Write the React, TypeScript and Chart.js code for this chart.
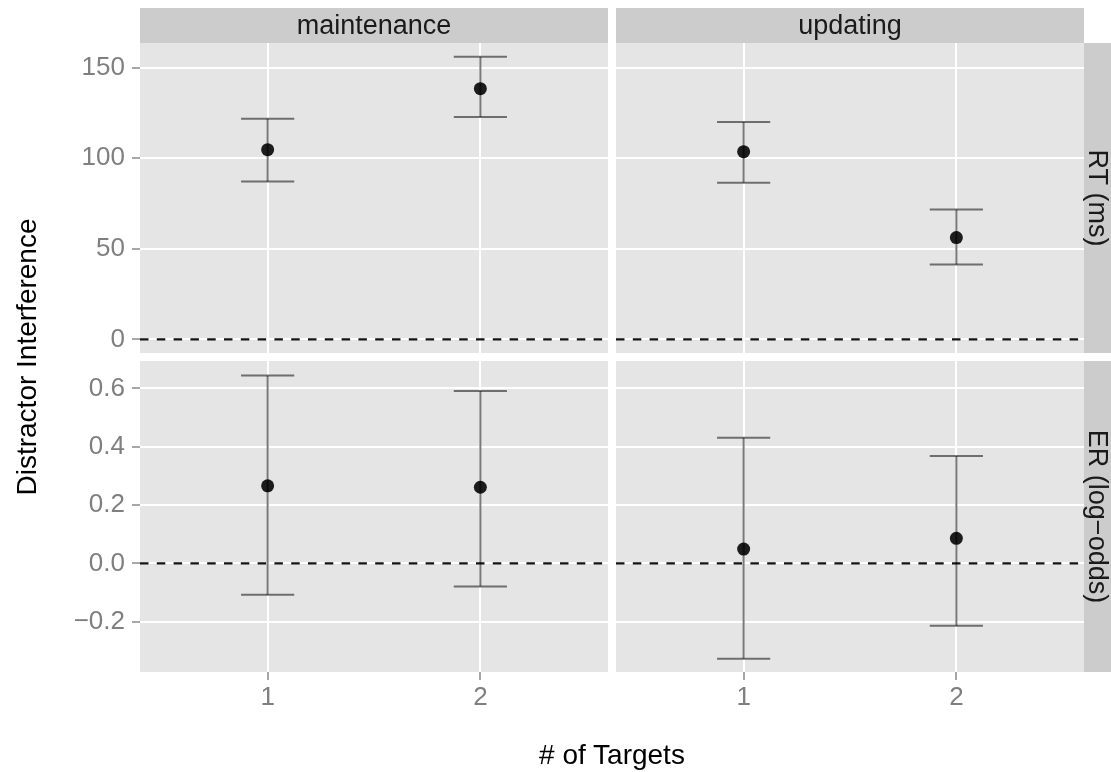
import { useEffect, useRef } from "react";
import { Chart, registerables } from "chart.js";

Chart.register(...registerables);

// ---- data ----
const targets = [1, 2];
const facetColumns = ["maintenance", "updating"];
const facetRows = ["RT (ms)", "ER (log\u2212odds)"];

const rtTicks = [0, 50, 100, 150];
const erTicks = [-0.2, 0, 0.2, 0.4, 0.6];

// RT (ms) distractor interference
const rtMaintenanceMean = [104.7, 138.4];
const rtMaintenanceLow = [87.1, 122.8];
const rtMaintenanceHigh = [121.8, 156.0];
const rtUpdatingMean = [103.6, 56.2];
const rtUpdatingLow = [86.5, 41.3];
const rtUpdatingHigh = [120.0, 71.7];

// ER (log-odds) distractor interference
const erMaintenanceMean = [0.266, 0.261];
const erMaintenanceLow = [-0.108, -0.079];
const erMaintenanceHigh = [0.644, 0.591];
const erUpdatingMean = [0.049, 0.086];
const erUpdatingLow = [-0.327, -0.214];
const erUpdatingHigh = [0.431, 0.368];

const FONT = '"Liberation Sans", Arial, Helvetica, sans-serif';
const X_MIN = 0.4;
const X_MAX = 2.6;
const CAP = 0.125;

type PanelSpec = {
  mean: number[];
  low: number[];
  high: number[];
  yMin: number;
  yMax: number;
  yTicks: number[];
  yFormat: (v: number) => string;
  leftAxis: boolean;
  bottomAxis: boolean;
  topStrip: string | null;
  rightStrip: string | null;
};

const panelBackground = {
  id: "panelBackground",
  beforeDraw(chart: any) {
    const { ctx, chartArea } = chart;
    ctx.save();
    ctx.fillStyle = "#e5e5e5";
    ctx.fillRect(chartArea.left, chartArea.top, chartArea.right - chartArea.left, chartArea.bottom - chartArea.top);
    ctx.restore();
  },
};

const facetStrips = {
  id: "facetStrips",
  afterDraw(chart: any) {
    const opts = chart.options.plugins.facetStrips || {};
    const { ctx, chartArea } = chart;
    const { left, right, top, bottom } = chartArea;
    ctx.save();
    ctx.font = `27px ${FONT}`;
    ctx.textAlign = "center";
    ctx.textBaseline = "middle";
    if (opts.top) {
      ctx.fillStyle = "#cccccc";
      ctx.fillRect(left, 8, right - left, top - 8);
      ctx.fillStyle = "#1a1a1a";
      ctx.fillText(opts.top, (left + right) / 2, (8 + top) / 2 + 1);
    }
    if (opts.right) {
      const w = chart.width - right;
      ctx.fillStyle = "#cccccc";
      ctx.fillRect(right, top, w, bottom - top);
      ctx.fillStyle = "#1a1a1a";
      ctx.translate(right + w / 2, (top + bottom) / 2);
      ctx.rotate(Math.PI / 2);
      ctx.fillText(opts.right, 0, 1);
    }
    ctx.restore();
  },
};

function buildDatasets(p: PanelSpec) {
  const barColor = "rgba(0,0,0,0.52)";
  const lineDs = (pts: { x: number; y: number }[], color: string, width: number, dash: number[] = []) => ({
    type: "line",
    data: pts,
    borderColor: color,
    borderWidth: width,
    borderDash: dash,
    pointRadius: 0,
    showLine: true,
    fill: false,
    tension: 0,
  });
  const ds: any[] = [];
  ds.push(lineDs([{ x: X_MIN, y: 0 }, { x: X_MAX, y: 0 }], "rgba(0,0,0,0.92)", 2.2, [8.5, 8.3]));
  targets.forEach((t, i) => {
    ds.push(lineDs([{ x: t, y: p.low[i] }, { x: t, y: p.high[i] }], barColor, 2));
    ds.push(lineDs([{ x: t - CAP, y: p.high[i] }, { x: t + CAP, y: p.high[i] }], barColor, 2));
    ds.push(lineDs([{ x: t - CAP, y: p.low[i] }, { x: t + CAP, y: p.low[i] }], barColor, 2));
  });
  ds.push({
    type: "line",
    data: targets.map((t, i) => ({ x: t, y: p.mean[i] })),
    showLine: false,
    pointRadius: 6.5,
    pointBackgroundColor: "#1c1c1c",
    pointBorderWidth: 0,
    borderColor: "#1c1c1c",
  });
  return ds;
}

// Scale boxes get fixed sizes and no label overflow padding so that
// every panel's plotting area lands on the same grid.
function pinScale(s: any, size: number, horizontal: boolean) {
  if (horizontal) s.height = size;
  else s.width = size;
  s.paddingTop = 0;
  s.paddingBottom = 0;
  s.paddingLeft = 0;
  s.paddingRight = 0;
}

function makeChart(canvas: HTMLCanvasElement, p: PanelSpec) {
  return new Chart(canvas, {
    type: "line",
    data: { datasets: buildDatasets(p) as any },
    options: {
      animation: false,
      responsive: false,
      devicePixelRatio: 1,
      events: [],
      layout: {
        autoPadding: false,
        padding: {
          top: p.topStrip ? 43 : 0,
          right: p.rightStrip ? 27 : 0,
          left: 0,
          bottom: 0,
        },
      },
      plugins: {
        legend: { display: false },
        tooltip: { enabled: false },
        facetStrips: { top: p.topStrip, right: p.rightStrip },
      } as any,
      scales: {
        x: {
          type: "linear",
          min: X_MIN,
          max: X_MAX,
          afterBuildTicks: (s: any) => {
            s.ticks = targets.map((v) => ({ value: v }));
          },
          afterFit: (s: any) => pinScale(s, p.bottomAxis ? 100 : 0, true),
          border: { display: false },
          grid: {
            color: "#ffffff",
            lineWidth: 2,
            drawTicks: p.bottomAxis,
            tickLength: 8,
            tickColor: "#8a8a8a",
            tickWidth: 1.5,
          },
          ticks: {
            display: p.bottomAxis,
            color: "#7f7f7f",
            font: { family: FONT, size: 26 },
            padding: 2,
            maxRotation: 0,
            callback: (v: any) => String(v),
          },
        },
        y: {
          type: "linear",
          min: p.yMin,
          max: p.yMax,
          afterBuildTicks: (s: any) => {
            s.ticks = p.yTicks.map((v) => ({ value: v }));
          },
          afterFit: (s: any) => pinScale(s, p.leftAxis ? 140 : 0, false),
          border: { display: false },
          grid: {
            color: "#ffffff",
            lineWidth: 2,
            drawTicks: p.leftAxis,
            tickLength: 8,
            tickColor: "#8a8a8a",
            tickWidth: 1.5,
          },
          ticks: {
            display: p.leftAxis,
            color: "#7f7f7f",
            font: { family: FONT, size: 26 },
            padding: 7,
            callback: (v: any) => p.yFormat(Number(v)),
          },
        },
      },
    },
    plugins: [panelBackground, facetStrips],
  } as any);
}

const rtFormat = (v: number) => String(Math.round(v));
const erFormat = (v: number) => v.toFixed(1).replace("-", "\u2212");

const panels: { key: string; left: number; top: number; width: number; height: number; spec: PanelSpec }[] = [
  {
    key: "rt-maintenance",
    left: 0,
    top: 0,
    width: 608,
    height: 353,
    spec: {
      mean: rtMaintenanceMean, low: rtMaintenanceLow, high: rtMaintenanceHigh,
      yMin: -7.5, yMax: 163.6, yTicks: rtTicks, yFormat: rtFormat,
      leftAxis: true, bottomAxis: false, topStrip: facetColumns[0], rightStrip: null,
    },
  },
  {
    key: "rt-updating",
    left: 616,
    top: 0,
    width: 495,
    height: 353,
    spec: {
      mean: rtUpdatingMean, low: rtUpdatingLow, high: rtUpdatingHigh,
      yMin: -7.5, yMax: 163.6, yTicks: rtTicks, yFormat: rtFormat,
      leftAxis: false, bottomAxis: false, topStrip: facetColumns[1], rightStrip: facetRows[0],
    },
  },
  {
    key: "er-maintenance",
    left: 0,
    top: 361,
    width: 608,
    height: 411,
    spec: {
      mean: erMaintenanceMean, low: erMaintenanceLow, high: erMaintenanceHigh,
      yMin: -0.3725, yMax: 0.694, yTicks: erTicks, yFormat: erFormat,
      leftAxis: true, bottomAxis: true, topStrip: null, rightStrip: null,
    },
  },
  {
    key: "er-updating",
    left: 616,
    top: 361,
    width: 495,
    height: 411,
    spec: {
      mean: erUpdatingMean, low: erUpdatingLow, high: erUpdatingHigh,
      yMin: -0.3725, yMax: 0.694, yTicks: erTicks, yFormat: erFormat,
      leftAxis: false, bottomAxis: true, topStrip: null, rightStrip: facetRows[1],
    },
  },
];

export default function App() {
  const refs = useRef<(HTMLCanvasElement | null)[]>([]);

  useEffect(() => {
    const charts = panels.map((p, i) => makeChart(refs.current[i] as HTMLCanvasElement, p.spec));
    return () => charts.forEach((c) => c.destroy());
  }, []);

  return (
    <div
      style={{
        position: "absolute",
        left: 0,
        top: 0,
        width: 1111,
        height: 772,
        background: "#ffffff",
        overflow: "hidden",
        fontFamily: FONT,
      }}
    >
      {panels.map((p, i) => (
        <canvas
          key={p.key}
          ref={(el) => {
            refs.current[i] = el;
          }}
          width={p.width}
          height={p.height}
          style={{ position: "absolute", left: p.left, top: p.top, width: p.width, height: p.height }}
        />
      ))}
      <div
        style={{
          position: "absolute",
          left: 412,
          top: 739,
          width: 400,
          height: 32,
          lineHeight: "32px",
          textAlign: "center",
          fontSize: 28,
          color: "#000000",
        }}
      >
        # of Targets
      </div>
      <div
        style={{
          position: "absolute",
          left: 27 - 200,
          top: 357 - 16,
          width: 400,
          height: 32,
          lineHeight: "32px",
          textAlign: "center",
          fontSize: 28,
          color: "#000000",
          transform: "rotate(-90deg)",
        }}
      >
        Distractor Interference
      </div>
    </div>
  );
}
